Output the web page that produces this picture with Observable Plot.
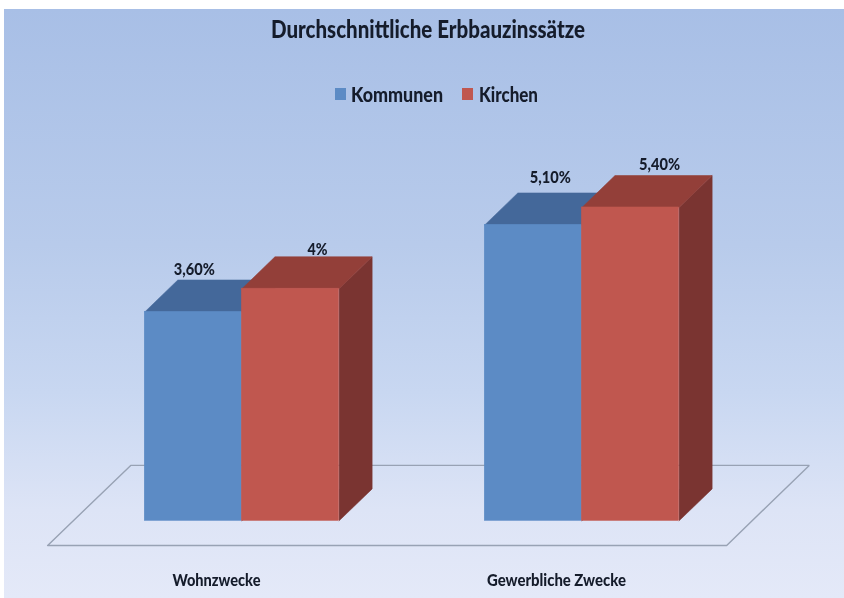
<!DOCTYPE html>
<html lang="de">
<head>
<meta charset="utf-8">
<script src="https://cdn.jsdelivr.net/npm/d3@7"></script>
<script src="https://cdn.jsdelivr.net/npm/@observablehq/plot@0.6"></script>
<style>
  html, body { margin: 0; padding: 0; background: #fff; }
  #wrap { position: relative; width: 844px; height: 598px; overflow: hidden;
    font-family: Lato, "Liberation Sans", sans-serif; color: #151c2b; }
  #panel { position: absolute; left: 4px; top: 9px; right: 0; bottom: 0;
    background: linear-gradient(#a8bfe6 0%, #b8cbeb 40%, #c8d7f1 65%, #dde4f6 85%, #e4e9f8 100%); }
  #title { position: absolute; left: 271px; top: 15px; white-space: nowrap; transform-origin: left center;
    font-size: 24px; font-weight: 900; line-height: 28px; filter: blur(0.35px); }
  #legend { position: absolute; top: 81px; left: 0; width: 844px; height: 26px;
    font-size: 20px; font-weight: 900; line-height: 26px; filter: blur(0.35px); }
  #legend span { position: absolute; white-space: nowrap; transform-origin: left center; }
  #legend i { position: absolute; top: 7px; width: 11px; height: 12px; }
  #plot { position: absolute; left: 0; top: 110px; filter: blur(0.4px); }
</style>
</head>
<body>
<div id="wrap">
  <div id="panel"></div>
  <div id="title"></div>
  <div id="legend"></div>
  <div id="plot"></div>
</div>
<script>
const titleText = "Durchschnittliche Erbbauzinssätze";
const categories = ["Wohnzwecke", "Gewerbliche Zwecke"];
const seriesNames = ["Kommunen", "Kirchen"];
const kommunen = [3.6, 5.1];
const kirchen = [4, 5.4];
const kommunenLabels = ["3,60%", "5,10%"];
const kirchenLabels = ["4%", "5,40%"];

const frontColors = ["#5c8bc5", "#c0574f"];
const topColors = ["#44689a", "#933f39"];
const sideColors = ["#3f5f8f", "#7a3431"];
const legendX = [[335, 351], [462, 479]];

// Width each text occupies in the reference, in pixels
const textWidths = {
  "Durchschnittliche Erbbauzinssätze": 314,
  "Kommunen": 92, "Kirchen": 59,
  "Wohnzwecke": 88, "Gewerbliche Zwecke": 139,
  "3,60%": 41, "5,10%": 41, "5,40%": 41, "4%": 20
};

// Depth of the 3D projection, in data units of each scale
const depthX = 0.34, depthY = 0.55;
const groupStep = 3.5;
const floor = [
  {x: -1.0, y: -0.425}, {x: -0.145, y: 0.955}, {x: 6.84, y: 0.955},
  {x: 5.99, y: -0.425}, {x: -1.0, y: -0.425}
];

const values = [kommunen, kirchen];
const labels = [kommunenLabels, kirchenLabels];
const labelDx = [[1, 17], [27, 29]];
const labelDy = [[-10, -15], [-7, -11]];

const title = document.getElementById("title");
title.textContent = titleText;
const legend = document.getElementById("legend");
const legendTexts = seriesNames.map((name, s) => {
  const sw = document.createElement("i");
  sw.style.left = legendX[s][0] + "px";
  sw.style.background = frontColors[s];
  const t = document.createElement("span");
  t.style.left = legendX[s][1] + "px";
  t.textContent = name;
  legend.append(sw, t);
  return t;
});
for (const el of [title, ...legendTexts]) {
  const w = el.getBoundingClientRect().width;
  el.style.transform = `scaleX(${textWidths[el.textContent] / w})`;
}

const bars = values.flatMap((vals, s) => vals.map((v, g) => ({
  s, g, v, x1: g * groupStep + s, x2: g * groupStep + s + 1
})));

const poly = (pts, s, g) => pts.map(([x, y]) => ({x, y, key: `${s}-${g}`}));
const sideFaces = s => bars.filter(b => b.s === s).flatMap(b => poly([
  [b.x2, 0], [b.x2 + depthX, depthY], [b.x2 + depthX, b.v + depthY], [b.x2, b.v]
], b.s, b.g));
const topFaces = s => bars.filter(b => b.s === s).flatMap(b => poly([
  [b.x1, b.v], [b.x1 + depthX, b.v + depthY], [b.x2 + depthX, b.v + depthY], [b.x2, b.v]
], b.s, b.g));

const faceMarks = seriesNames.flatMap((_, s) => [
  Plot.line(sideFaces(s), {x: "x", y: "y", z: "key", fill: sideColors[s], stroke: sideColors[s], strokeWidth: 0.6}),
  Plot.line(topFaces(s), {x: "x", y: "y", z: "key", fill: topColors[s], stroke: topColors[s], strokeWidth: 0.6}),
  Plot.rect(bars.filter(b => b.s === s), {x1: "x1", x2: "x2", y1: 0, y2: "v", fill: frontColors[s], stroke: frontColors[s], strokeWidth: 0.6})
]);

const valueLabels = bars.map(b => ({
  x: (b.x1 + b.x2) / 2, y: b.v + depthY,
  text: labels[b.s][b.g], dx: labelDx[b.s][b.g], dy: labelDy[b.s][b.g]
}));

const chart = Plot.plot({
  width: 844,
  height: 488,
  margin: 0,
  style: {background: "transparent", overflow: "visible"},
  x: {type: "linear", domain: [0, groupStep], range: [144.3, 484.3], axis: null},
  y: {type: "linear", domain: [0, 5.4], range: [410.3, 97], axis: null},
  marks: [
    Plot.line(floor, {x: "x", y: "y", stroke: "#98a2b4", strokeWidth: 1.4, strokeLinejoin: "miter"}),
    ...faceMarks,
    ...valueLabels.map(d => Plot.text([d], {
      x: "x", y: "y", text: "text", dx: d.dx, dy: d.dy,
      fontSize: 17, fontWeight: 900, fill: "#151c2b",
      fontFamily: "Lato, Liberation Sans, sans-serif"
    })),
    Plot.text(categories, {
      x: (d, i) => i * groupStep + 1, y: -1.03, text: d => d, dx: -25.5,
      fontSize: 17, fontWeight: 900, fill: "#151c2b",
      fontFamily: "Lato, Liberation Sans, sans-serif"
    })
  ]
});
chart.querySelectorAll("text").forEach(t => {
  const w = textWidths[t.textContent];
  if (w) {
    t.setAttribute("textLength", w);
    t.setAttribute("lengthAdjust", "spacingAndGlyphs");
  }
});
document.getElementById("plot").append(chart);
</script>
</body>
</html>
